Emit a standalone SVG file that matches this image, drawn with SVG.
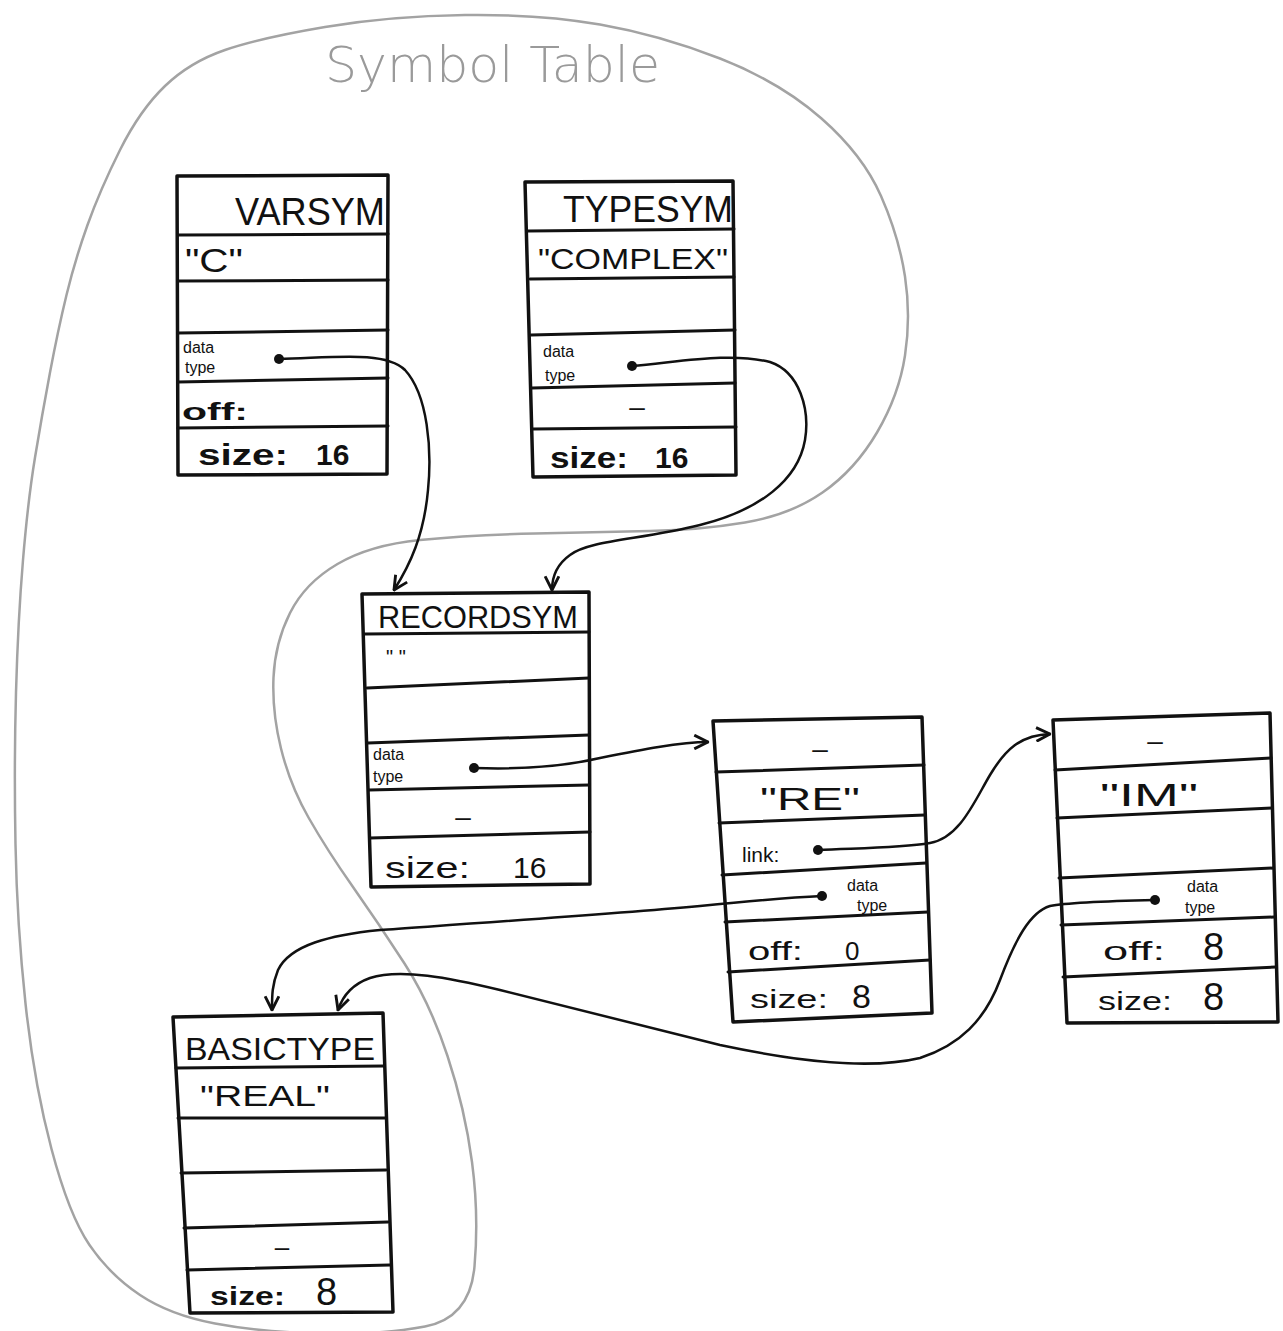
<svg xmlns="http://www.w3.org/2000/svg" width="1283" height="1331" viewBox="0 0 1283 1331">
<style>
.bg{fill:#fff}
.blob{fill:none;stroke:#a3a3a3;stroke-width:2.5;stroke-linejoin:round}
.title{font-family:"DejaVu Sans","Liberation Sans",sans-serif;font-weight:200;fill:#9a9a9a}
.box{fill:#fff;stroke:#111;stroke-width:3.5;stroke-linejoin:round}
.row{fill:none;stroke:#111;stroke-width:3;stroke-linecap:round}
.lbl{font-family:"Liberation Sans",Arial,sans-serif;fill:#111}
.sm{font-family:"Liberation Sans",Arial,sans-serif;fill:#111;font-size:16px}
.conn{fill:none;stroke:#111;stroke-width:2.5;stroke-linecap:round}
.dot{fill:#111}
</style>
<defs>
<marker id="arr" viewBox="0 0 14 14" refX="13" refY="7" markerWidth="16" markerHeight="16" markerUnits="userSpaceOnUse" orient="auto">
<path d="M1,1 L13,7 L1,13" fill="none" stroke="#111" stroke-width="2.5" stroke-linejoin="round"/>
</marker>
</defs>
<rect class="bg" x="0" y="0" width="1283" height="1331"/>

<g id="symbol-table">
<path class="blob" d="M425,1326.5 Q470,1318 474.5,1266.5 Q479,1215 472,1162 Q465,1109 447.5,1056 Q430,1003 404.5,963.5 Q379,924 353,887 Q327,850 308.5,817.5 Q290,785 281,748.5 Q272,712 273.5,677.5 Q275,643 290,613 Q305,583 337.5,564 Q370,545 420,540 Q470,535 535,533.5 Q600,532 650,531 Q700,530 745,522.5 Q790,515 822.5,492.5 Q855,470 877,432.5 Q899,395 905,355.5 Q911,316 905,276.5 Q899,237 881,196 Q863,155 821.5,118.5 Q780,82 720,58.5 Q660,35 600,24.5 Q540,14 465,15 Q390,16 325,27 Q260,38 225,50 Q190,62 165,86 Q140,110 120,150 Q100,190 87.5,225 Q75,260 66.5,295 Q58,330 50,372.5 Q42,415 35,457.5 Q28,500 23,560 Q18,620 16,692.5 Q14,765 15.5,844.5 Q17,924 25.5,1003.5 Q34,1083 51.5,1149 Q69,1215 89.5,1245 Q110,1275 140,1295 Q170,1315 215,1323.5 Q260,1332 320,1333.5 Q380,1335 425,1326.5 Z"/>
<text class="title" x="325" y="82" font-size="50" textLength="335" lengthAdjust="spacingAndGlyphs">Symbol Table</text>
</g>

<g id="node-varsym">
<path class="box" d="M177,176 L388,175 L387,474 L178,475 Z"/>
<path class="row" d="M178,235 L388,234 M178,281 L388,280 M178,333 L388,330 M178,382 L388,378 M178,428 L388,426"/>
<text class="lbl" x="235" y="225" font-size="38" textLength="150" lengthAdjust="spacingAndGlyphs">VARSYM</text>
<text class="lbl" x="185" y="272" font-size="34" textLength="58" lengthAdjust="spacingAndGlyphs">"C"</text>
<text class="sm" x="183" y="353">data</text>
<text class="sm" x="185" y="373">type</text>
<circle class="dot" cx="279" cy="359" r="5"/>
<text class="lbl" x="182" y="420" font-size="24" font-weight="bold" textLength="66" lengthAdjust="spacingAndGlyphs">off:</text>
<text class="lbl" x="198" y="465" font-size="30" font-weight="bold"><tspan textLength="90" lengthAdjust="spacingAndGlyphs">size:</tspan> <tspan x="316">16</tspan></text>
</g>

<g id="node-typesym">
<path class="box" d="M525,182 L733,181 L736,475 L533,477 Z"/>
<path class="row" d="M528,231 L734,229 M530,279 L734,277 M531,335 L735,330 M532,388 L735,383 M533,429 L736,427"/>
<text class="lbl" x="563" y="222" font-size="36" textLength="170" lengthAdjust="spacingAndGlyphs">TYPESYM</text>
<text class="lbl" x="538" y="269" font-size="30" textLength="190" lengthAdjust="spacingAndGlyphs">"COMPLEX"</text>
<text class="sm" x="543" y="357" font-size="17">data</text>
<text class="sm" x="545" y="381" font-size="17">type</text>
<circle class="dot" cx="632" cy="366" r="5"/>
<text class="lbl" x="637" y="416" font-size="28" text-anchor="middle">–</text>
<text class="lbl" x="550" y="468" font-size="30" font-weight="bold"><tspan textLength="78" lengthAdjust="spacingAndGlyphs">size:</tspan> <tspan x="655">16</tspan></text>
</g>

<g id="node-recordsym">
<path class="box" d="M362,594 L589,592 L590,884 L371,887 Z"/>
<path class="row" d="M365,634 L589,632 M367,688 L589,678 M368,743 L589,735 M369,790 L589,785 M370,838 L590,832"/>
<text class="lbl" x="378" y="628" font-size="32" textLength="200" lengthAdjust="spacingAndGlyphs">RECORDSYM</text>
<text class="lbl" x="386" y="664" font-size="20">" "</text>
<text class="sm" x="373" y="760">data</text>
<text class="sm" x="373" y="782">type</text>
<circle class="dot" cx="474" cy="768" r="5"/>
<text class="lbl" x="463" y="826" font-size="28" text-anchor="middle">–</text>
<text class="lbl" x="385" y="878" font-size="30"><tspan textLength="85" lengthAdjust="spacingAndGlyphs">size:</tspan> <tspan x="513">16</tspan></text>
</g>

<g id="node-re">
<path class="box" d="M713,721 L922,717 L932,1013 L733,1022 Z"/>
<path class="row" d="M716,772 L924,765 M719,823 L925,815 M722,875 L926,863 M725,922 L928,912 M728,972 L930,960"/>
<text class="lbl" x="820" y="758" font-size="28" text-anchor="middle">–</text>
<text class="lbl" x="760" y="810" font-size="32" textLength="100" lengthAdjust="spacingAndGlyphs">"RE"</text>
<text class="lbl" x="742" y="862" font-size="21">link:</text>
<circle class="dot" cx="818" cy="850" r="5"/>
<circle class="dot" cx="822" cy="896" r="5"/>
<text class="sm" x="847" y="891">data</text>
<text class="sm" x="857" y="911">type</text>
<text class="lbl" x="748" y="960" font-size="26"><tspan textLength="55" lengthAdjust="spacingAndGlyphs">off:</tspan> <tspan x="845">0</tspan></text>
<text class="lbl" x="750" y="1008" font-size="26"><tspan textLength="78" lengthAdjust="spacingAndGlyphs">size:</tspan> <tspan x="852" font-size="34">8</tspan></text>
</g>

<g id="node-im">
<path class="box" d="M1053,720 L1270,713 L1278,1022 L1067,1023 Z"/>
<path class="row" d="M1055,770 L1271,758 M1057,818 L1272,808 M1059,878 L1273,868 M1061,925 L1274,917 M1063,977 L1276,967"/>
<text class="lbl" x="1155" y="750" font-size="28" text-anchor="middle">–</text>
<text class="lbl" x="1100" y="806" font-size="32" textLength="98" lengthAdjust="spacingAndGlyphs">"IM"</text>
<circle class="dot" cx="1155" cy="900" r="5"/>
<text class="sm" x="1187" y="892" font-size="15">data</text>
<text class="sm" x="1185" y="913" font-size="15">type</text>
<text class="lbl" x="1103" y="960" font-size="26"><tspan textLength="62" lengthAdjust="spacingAndGlyphs">off:</tspan> <tspan x="1203" font-size="38">8</tspan></text>
<text class="lbl" x="1098" y="1010" font-size="26"><tspan textLength="74" lengthAdjust="spacingAndGlyphs">size:</tspan> <tspan x="1203" font-size="38">8</tspan></text>
</g>

<g id="node-basictype">
<path class="box" d="M173,1017 L383,1013 L393,1312 L190,1313 Z"/>
<path class="row" d="M176,1068 L384,1066 M178,1118 L385,1118 M181,1173 L386,1170 M184,1228 L388,1222 M187,1270 L390,1265"/>
<text class="lbl" x="185" y="1060" font-size="32" textLength="190" lengthAdjust="spacingAndGlyphs">BASICTYPE</text>
<text class="lbl" x="200" y="1106" font-size="30" textLength="130" lengthAdjust="spacingAndGlyphs">"REAL"</text>
<text class="lbl" x="282" y="1256" font-size="26" text-anchor="middle">–</text>
<text class="lbl" x="210" y="1305" font-size="26" font-weight="bold"><tspan textLength="75" lengthAdjust="spacingAndGlyphs">size:</tspan> <tspan x="316" font-size="38" font-weight="normal">8</tspan></text>
</g>

<g id="connectors">
<path class="conn" marker-end="url(#arr)" d="M279,359 C330,358 385,350 405,370 C428,395 432,450 428,490 C424,535 410,565 394,590"/>
<path class="conn" marker-end="url(#arr)" d="M632,366 C680,362 730,352 770,362 C800,372 810,410 805,440 C798,480 760,510 700,525 C640,540 590,540 570,555 C556,565 552,578 552,590"/>
<path class="conn" marker-end="url(#arr)" d="M474,768 C530,770 570,765 600,758 C640,750 680,742 708,742"/>
<path class="conn" marker-end="url(#arr)" d="M818,850 C860,848 900,848 930,843 C960,838 975,800 990,775 C1005,750 1020,735 1050,734"/>
<path class="conn" marker-end="url(#arr)" d="M822,896 C780,898 740,902 700,906 C600,915 450,925 380,930 C330,935 290,945 278,970 C272,985 272,995 272,1010"/>
<path class="conn" marker-end="url(#arr)" d="M1155,900 C1110,901 1070,902 1050,906 C1030,912 1015,940 1000,980 C985,1020 960,1045 920,1058 C870,1070 800,1062 720,1045 C640,1025 560,1005 500,990 C450,978 400,968 370,978 C350,985 342,998 338,1010"/>
</g>
</svg>
